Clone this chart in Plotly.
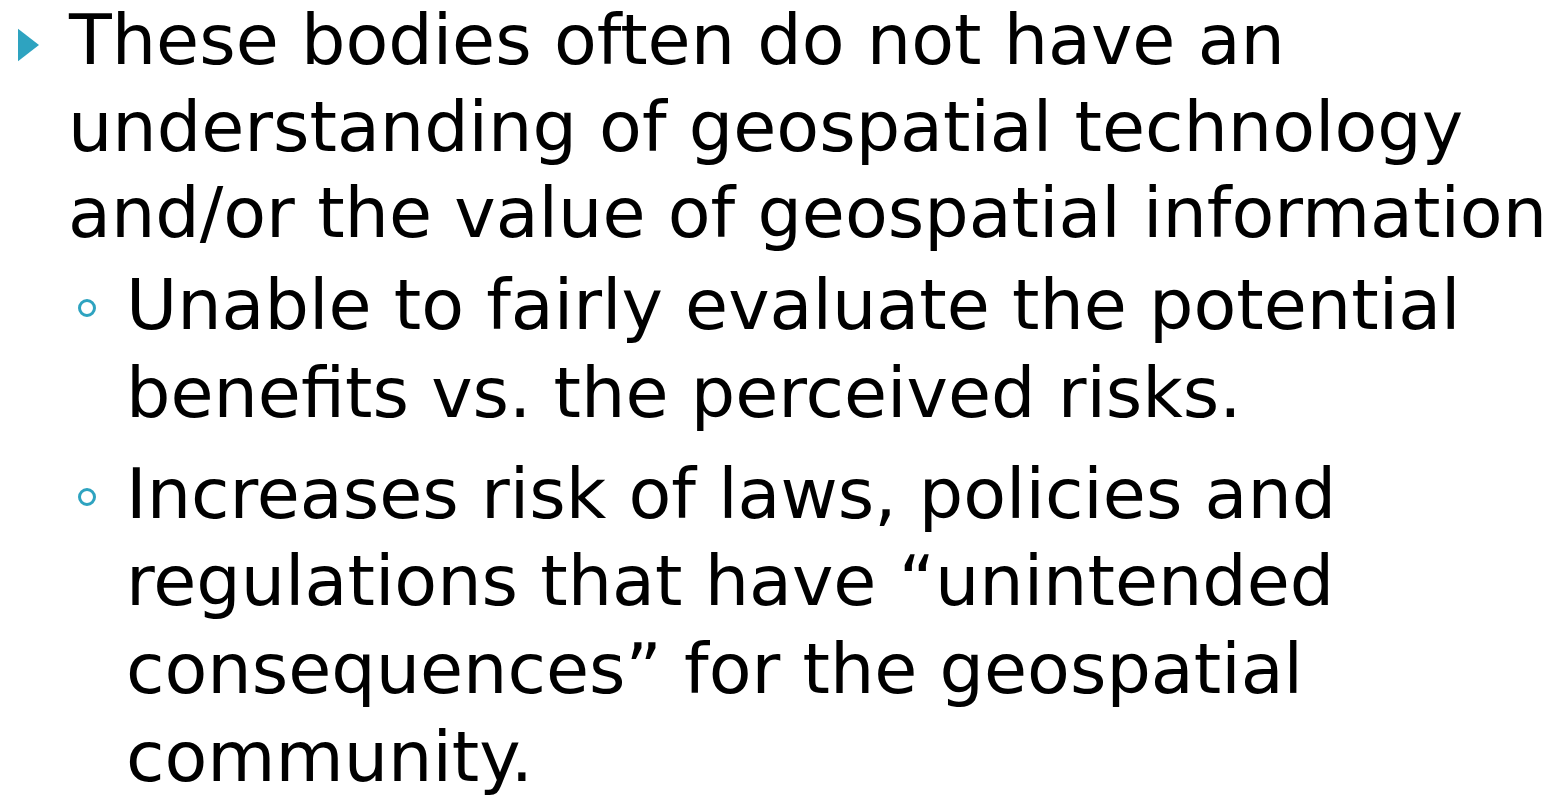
import plotly.graph_objects as go

W, H = 1564, 801

lines = [
    "These bodies often do not have an",
    "understanding of geospatial technology",
    "and/or the value of geospatial information",
    "Unable to fairly evaluate the potential",
    "benefits vs. the perceived risks.",
    "Increases risk of laws, policies and",
    "regulations that have \u201cunintended",
    "consequences\u201d for the geospatial",
    "community.",
]
levels = [1, 1, 1, 2, 2, 2, 2, 2, 2]
baselines = [65, 152, 238, 330, 418, 519, 606, 694, 782]
level_x = {1: 66, 2: 124}

bullet1_xy = [(25, 45)]
bullet2_xy = [(87, 308), (87, 497)]

FS = 70
accent = "#2ea3c0"

fig = go.Figure()
fig.add_trace(go.Scatter(
    x=[p[0] for p in bullet1_xy], y=[p[1] for p in bullet1_xy],
    mode="markers", marker=dict(symbol="triangle-right", size=28, color=accent),
    hoverinfo="skip"))
fig.add_trace(go.Scatter(
    x=[p[0] for p in bullet2_xy], y=[p[1] for p in bullet2_xy],
    mode="markers", marker=dict(symbol="circle-open", size=15, color=accent,
                                line=dict(width=3, color=accent)),
    hoverinfo="skip"))

for t, lv, b in zip(lines, levels, baselines):
    fig.add_annotation(x=level_x[lv], y=b - 0.36 * FS, text=t, xref="x", yref="y",
                       xanchor="left", yanchor="middle", showarrow=False,
                       font=dict(family="DejaVu Sans", size=FS, color="black"))

fig.update_layout(
    width=W, height=H, margin=dict(l=0, r=0, t=0, b=0),
    plot_bgcolor="white", paper_bgcolor="white", showlegend=False,
    xaxis=dict(range=[0, W], visible=False, fixedrange=True),
    yaxis=dict(range=[H, 0], visible=False, fixedrange=True),
)
fig.write_html("out.html", config={"displayModeBar": False},
               post_script="document.body.style.margin='0';document.body.style.overflow='hidden';")
